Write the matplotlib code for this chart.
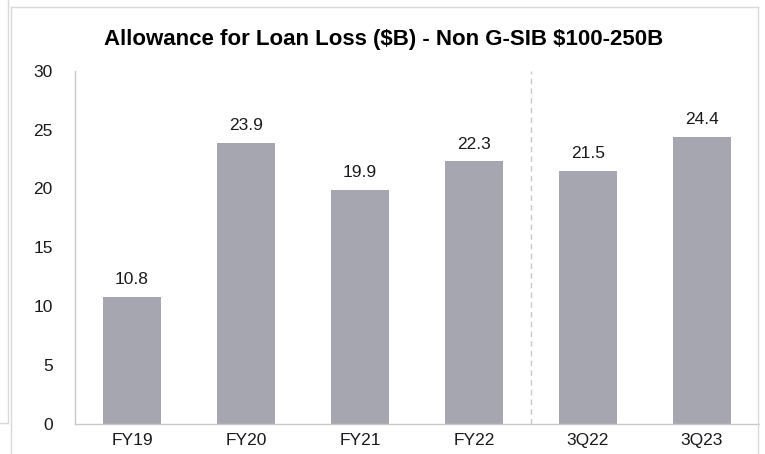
import matplotlib
matplotlib.use("Agg")
import matplotlib.pyplot as plt
from matplotlib.lines import Line2D

plt.rcParams['font.family'] = ['Liberation Sans', 'DejaVu Sans']

categories = ["FY19", "FY20", "FY21", "FY22", "3Q22", "3Q23"]
values = [10.8, 23.9, 19.9, 22.3, 21.5, 24.4]
title = r"Allowance for Loan Loss (\$B) - Non G-SIB \$100-250B"

W, H = 765, 454
fig = plt.figure(figsize=(W / 100, H / 100), dpi=100)
ax = fig.add_axes([75 / W, 1 - 423.5 / H, 684 / W, 352.5 / H])

x = list(range(len(categories)))
bars = ax.bar(x, values, width=0.51, color="#a5a6b0", zorder=2)
for xi, v in zip(x, values):
    ax.annotate(f"{v:.1f}", (xi, v), xytext=(0, 7), textcoords="offset points",
                ha="center", va="bottom", fontsize=12.5, color="#1a1a1a")

# separator between annual and quarterly figures
ax.axvline(3.5, color="#c8c8c8", lw=1, ls=(0, (4, 3)), zorder=1)

ax.set_xlim(-0.5, 5.5)
ax.set_ylim(0, 30)
ax.set_yticks(range(0, 31, 5))
ax.set_xticks(x)
ax.set_xticklabels(categories)
ax.tick_params(axis="both", length=0, labelsize=12.5, colors="#1a1a1a")
ax.tick_params(axis="y", pad=16)
ax.tick_params(axis="x", pad=7)
for s in ["top", "right"]:
    ax.spines[s].set_visible(False)
for s in ["left", "bottom"]:
    ax.spines[s].set_color("#c8c8c8")
    ax.spines[s].set_linewidth(1)

fig.text(0.502, 1 - 40 / H, title, ha="center", va="center",
         fontsize=16, fontweight="bold", color="#000000")

# slide frame lines
def fline(xs, ys):
    fig.add_artist(Line2D([p / W for p in xs], [1 - p / H for p in ys],
                          color="#d9d9d9", lw=1))

fline([10.5, 10.5], [7, H])
fline([10.5, 758], [7, 7])
fline([758, 758], [7, H])
fline([7.5, 7.5], [0, 423])
fline([0, 7.5], [423, 423])

fig.savefig("out.png", dpi=100)
